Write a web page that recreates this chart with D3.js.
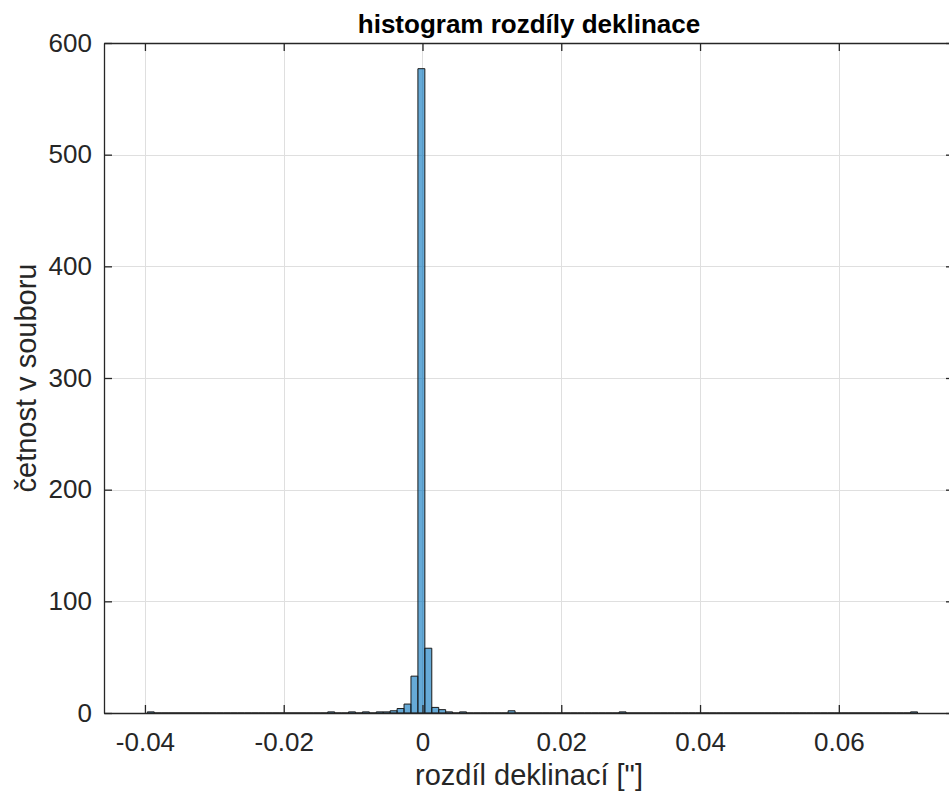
<!DOCTYPE html>
<html>
<head>
<meta charset="utf-8">
<script src="https://cdn.jsdelivr.net/npm/d3@7"></script>
<style>
  body { margin: 0; background: #fff; }
  svg { display: block; font-family: "Liberation Sans", Arial, Helvetica, sans-serif; }
</style>
</head>
<body>
<script>
// histogram bins (rozdíl deklinací, width 0.001)
const binStart = -0.03966;
const binWidth = 0.001;
// counts per bin, index 0 starts at binStart
const counts = [
  1, 0, 0, 0, 0, 0, 0, 0, 0, 0,   // 0-9
  0, 0, 0, 0, 0, 0, 0, 0, 0, 0,   // 10-19
  0, 0, 0, 0, 0, 0, 1, 0, 0, 1,   // 20-29
  0, 1, 0, 1, 1, 2, 4, 8, 33, 577, // 30-39
  58, 5, 3, 1, 0, 1, 0, 0, 0, 0,  // 40-49
  0, 0, 2, 0, 0, 0, 0, 0, 0, 0,   // 50-59
  0, 0, 0, 0, 0, 0, 0, 0, 1, 0,   // 60-69
  0, 0, 0, 0, 0, 0, 0, 0, 0, 0,   // 70-79
  0, 0, 0, 0, 0, 0, 0, 0, 0, 0,   // 80-89
  0, 0, 0, 0, 0, 0, 0, 0, 0, 0,   // 90-99
  0, 0, 0, 0, 0, 0, 0, 0, 0, 0,   // 100-109
  1                               // 110
];
const xTicks = [-0.04, -0.02, 0, 0.02, 0.04, 0.06];
const yTicks = [0, 100, 200, 300, 400, 500, 600];
const xDomain = [-0.0459, 0.0766];
const yDomain = [0, 600];

const titleText = "histogram rozdíly deklinace";
const xLabelText = "rozdíl deklinací [\"]";
const yLabelText = "četnost v souboru";

const W = 949, H = 798;
const margin = { top: 43, right: -5, bottom: 85, left: 104 };
const iw = W - margin.left - margin.right;
const ih = H - margin.top - margin.bottom;

const bins = counts.map((c, i) => ({
  x0: binStart + i * binWidth,
  x1: binStart + (i + 1) * binWidth,
  n: c
}));

const svg = d3.select("body").append("svg")
  .attr("width", W).attr("height", H);

const g = svg.append("g").attr("transform", `translate(${margin.left},${margin.top})`);

const x = d3.scaleLinear().domain(xDomain).range([0, iw]);
const y = d3.scaleLinear().domain(yDomain).range([ih, 0]);

const axisCol = "#262626";
const tickLen = 8;

// grid
g.append("g").selectAll("line").data(xTicks).enter().append("line")
  .attr("x1", d => Math.round(x(d)) + 0.5).attr("x2", d => Math.round(x(d)) + 0.5)
  .attr("y1", 0).attr("y2", ih)
  .attr("stroke", "#dfdfdf").attr("stroke-width", 1);
g.append("g").selectAll("line").data(yTicks).enter().append("line")
  .attr("y1", d => Math.round(y(d)) + 0.5).attr("y2", d => Math.round(y(d)) + 0.5)
  .attr("x1", 0).attr("x2", iw)
  .attr("stroke", "#dfdfdf").attr("stroke-width", 1);

// bars (paths so empty bins still draw their edge on the baseline)
g.append("g").selectAll("path").data(bins).enter().append("path")
  .attr("d", d => {
    const a = x(d.x0), b = x(d.x1), t = y(d.n), base = y(0);
    return `M${a},${base}V${t}H${b}V${base}Z`;
  })
  .attr("fill", "rgba(0,114,189,0.6)")
  .attr("stroke", "#1a1a1a")
  .attr("stroke-width", 1);

// axes with inward ticks, box on all sides
const fs = 26;
const xAxisB = d3.axisBottom(x).tickValues(xTicks).tickSizeInner(-tickLen).tickSizeOuter(0)
  .tickPadding(20).tickFormat(d => d === 0 ? "0" : d3.format(".2f")(d).replace("−", "-"));
const xAxisT = d3.axisTop(x).tickValues(xTicks).tickSizeInner(-tickLen).tickSizeOuter(0).tickFormat("");
const yAxisL = d3.axisLeft(y).tickValues(yTicks).tickSizeInner(-tickLen).tickSizeOuter(0)
  .tickPadding(12).tickFormat(d3.format("d"));
const yAxisR = d3.axisRight(y).tickValues(yTicks).tickSizeInner(-tickLen).tickSizeOuter(0).tickFormat("");

function styleAxis(sel) {
  sel.select(".domain").attr("stroke", axisCol).attr("stroke-width", 1.3);
  sel.selectAll(".tick line").attr("stroke", axisCol).attr("stroke-width", 1.3);
  sel.selectAll(".tick text").attr("fill", axisCol).style("font-size", fs + "px");
}

g.append("g").attr("transform", `translate(0,${ih})`).call(xAxisB).call(styleAxis);
g.append("g").call(xAxisT).call(styleAxis);
g.append("g").call(yAxisL).call(styleAxis);
g.append("g").attr("transform", `translate(${iw},0)`).call(yAxisR).call(styleAxis);

// title and labels
svg.append("text")
  .attr("x", margin.left + iw / 2).attr("y", margin.top - 10)
  .attr("text-anchor", "middle")
  .attr("fill", "#000")
  .style("font-size", "26px").style("font-weight", "bold")
  .text(titleText);

svg.append("text")
  .attr("x", margin.left + iw / 2).attr("y", 785)
  .attr("text-anchor", "middle")
  .attr("fill", axisCol)
  .style("font-size", "29px")
  .text(xLabelText);

svg.append("text")
  .attr("transform", `translate(36,${margin.top + ih / 2}) rotate(-90)`)
  .attr("text-anchor", "middle")
  .attr("fill", axisCol)
  .style("font-size", "29px")
  .text(yLabelText);
</script>
</body>
</html>
